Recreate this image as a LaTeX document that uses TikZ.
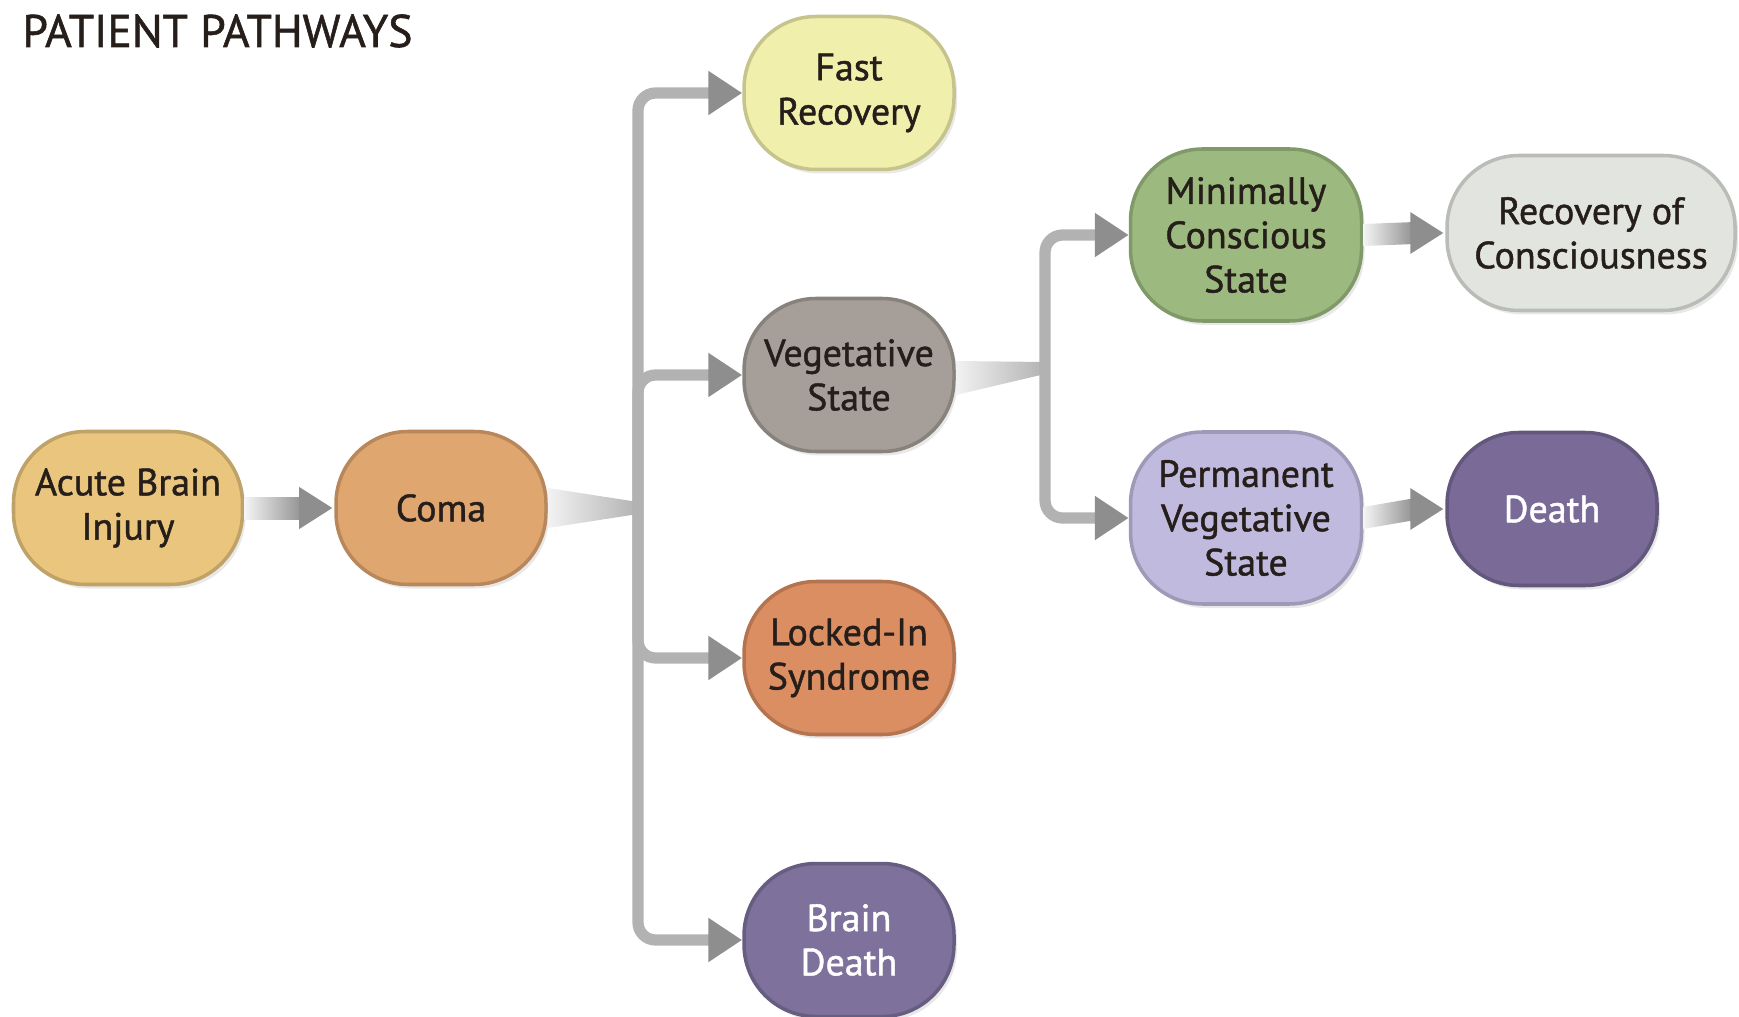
\documentclass[tikz,border=0pt]{standalone}
\usepackage{fontspec}
\setmainfont{PT Sans}[FakeBold=1.2]
\usetikzlibrary{arrows.meta,shadows}

\definecolor{abicol}{RGB}{233,197,126}
\definecolor{comacol}{RGB}{224,166,112}
\definecolor{fastcol}{RGB}{241,239,172}
\definecolor{vegcol}{RGB}{166,159,153}
\definecolor{lockcol}{RGB}{219,142,97}
\definecolor{bdeathcol}{RGB}{126,113,156}
\definecolor{mcscol}{RGB}{156,186,127}
\definecolor{roccol}{RGB}{226,229,223}
\definecolor{pvscol}{RGB}{192,187,222}
\definecolor{deathcol}{RGB}{121,106,151}
\definecolor{textdark}{RGB}{38,30,26}
\definecolor{trunkgray}{RGB}{178,178,178}
\definecolor{headgray}{RGB}{142,142,142}

\tikzset{
  pathbox/.style={rectangle, rounded corners=0.72cm, draw=#1!82!black, fill=#1,
    line width=1pt, minimum width=2.1cm, minimum height=1.53cm, align=center,
    inner sep=2pt, text=textdark, font=\fontsize{10.8}{12.6}\selectfont,
    drop shadow={opacity=0.18, shadow xshift=0.03cm, shadow yshift=-0.04cm}},
  branch/.style={line width=3.2pt, draw=trunkgray, rounded corners=5pt,
    -{Triangle[length=0.34cm,width=0.42cm,color=headgray]}},
}

% shaded arrow between two boxes
\newcommand\fadearrow[2]{%
  \shade[left color=gray!8, right color=headgray]
    ([yshift=0.11cm]#1.east) -- ([xshift=-0.3cm,yshift=0.11cm]#2.west)
    -- ([xshift=-0.3cm,yshift=-0.11cm]#2.west) -- ([yshift=-0.11cm]#1.east) -- cycle;
  \fill[headgray] ([xshift=-0.35cm,yshift=0.21cm]#2.west) -- ([xshift=-0.02cm]#2.west)
    -- ([xshift=-0.35cm,yshift=-0.21cm]#2.west) -- cycle;}

\begin{document}
\begin{tikzpicture}
  \useasboundingbox (0,0) rectangle (17.39,-10.17);

  % Title
  \node[anchor=west, text=textdark, font=\fontsize{13}{15}\selectfont] (title) at (0.1,-0.31) {PATIENT PATHWAYS};

  % First stage
  \node[pathbox=abicol, minimum width=2.29cm] (abi) at (1.28,-5.08) {Acute Brain\\Injury};
  \node[pathbox=comacol] (coma) at (4.41,-5.08) {Coma};

  % Outcomes of coma
  \node[pathbox=fastcol] (fast) at (8.49,-0.93) {Fast\\Recovery};
  \node[pathbox=vegcol] (veg) at (8.49,-3.75) {Vegetative\\State};
  \node[pathbox=lockcol] (locked) at (8.49,-6.58) {Locked-In\\Syndrome};
  \node[pathbox=bdeathcol, text=white] (bdeath) at (8.49,-9.40) {Brain\\Death};

  % Outcomes of vegetative state
  \node[pathbox=mcscol, minimum width=2.31cm, minimum height=1.72cm] (mcs) at (12.46,-2.35) {Minimally\\Conscious\\State};
  \node[pathbox=pvscol, minimum width=2.31cm, minimum height=1.72cm] (pvs) at (12.46,-5.18) {Permanent\\Vegetative\\State};
  \node[pathbox=roccol, minimum width=2.88cm, minimum height=1.55cm] (roc) at (15.91,-2.33) {Recovery of\\Consciousness};
  \node[pathbox=deathcol, text=white] (death) at (15.52,-5.09) {Death};

  % Trunk points
  \coordinate (t1) at (6.38,-5.08);
  \coordinate (t2) at (10.45,-3.68);

  % Coma to trunk
  \shade[left color=gray!10, right color=trunkgray] ([yshift=0.2cm]coma.east) -- ([yshift=0.06cm]t1)
    -- ([yshift=-0.06cm]t1) -- ([yshift=-0.2cm]coma.east) -- cycle;
  \draw[branch] (t1) |- (fast.west);
  \draw[branch] (t1) |- (veg.west);
  \draw[branch] (t1) |- (locked.west);
  \draw[branch] (t1) |- (bdeath.west);

  % Vegetative state to trunk
  \shade[left color=gray!10, right color=trunkgray] ([yshift=0.14cm]veg.east) -- ([yshift=0.06cm]t2)
    -- ([yshift=-0.06cm]t2) -- ([yshift=-0.2cm]veg.east) -- cycle;
  \draw[branch] (t2) |- (mcs.west);
  \draw[branch] (t2) |- (pvs.west);

  % Straight shaded arrows
  \fadearrow{abi}{coma}
  \fadearrow{mcs}{roc}
  \fadearrow{pvs}{death}
\end{tikzpicture}
\end{document}
